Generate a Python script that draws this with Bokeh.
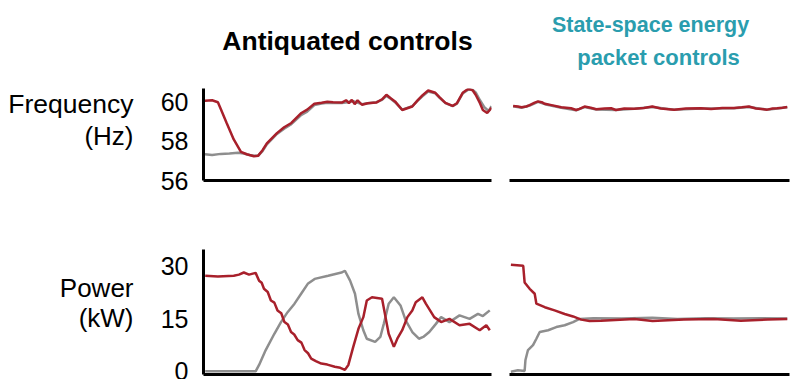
from bokeh.plotting import figure
from bokeh.layouts import column, row
from bokeh.models import Label, FixedTicker
from bokeh.embed import file_html
from bokeh.resources import INLINE

# ---- data -------------------------------------------------------------
# time axis is normalised to 0..100 for every panel
# frequency, antiquated controls (Hz)
t_freq_old_a = [0.5, 3, 5, 6, 8, 10.5, 13, 15, 17.5, 19, 20.5, 22, 25.5, 28, 30.5, 34, 36, 38.5,
                41, 43, 45, 48, 49.5, 50.5, 51.5, 52.5, 53.5, 55, 57, 60, 62, 63.5, 65, 66.5,
                69, 70.5, 72.5, 74.5, 76, 78, 80.5, 82, 84, 86.5, 88, 90, 92, 93.5, 94.5, 96,
                97, 98.5, 100]
freq_old_a = [60.08, 60.1, 60.0, 59.65, 58.95, 58.1, 57.46, 57.34, 57.24, 57.27, 57.55, 57.9,
              58.42, 58.72, 58.94, 59.45, 59.62, 59.92, 59.97, 60.02, 60.0, 59.98, 60.1, 59.95,
              60.12, 59.9, 60.1, 59.87, 59.95, 59.98, 60.15, 60.38, 60.2, 60.04, 59.6, 59.68,
              59.78, 60.12, 60.35, 60.6, 60.48, 60.25, 59.97, 59.81, 59.95, 60.48, 60.69, 60.6,
              60.38, 59.95, 59.6, 59.45, 59.71]
t_freq_old_b = [0.5, 3, 6, 9, 12, 14, 16, 17.5, 19, 20.5, 22, 25.5, 28, 30.5, 34, 36, 38.5, 41,
                43, 45, 48, 50, 52, 55, 57, 60, 62, 63.5, 65, 66.5, 69, 70.5, 72.5, 74.5, 76,
                78, 80.5, 82, 84, 86.5, 88, 90, 92, 93.5, 94.5, 96, 97.5, 99, 100]
freq_old_b = [57.34, 57.3, 57.36, 57.38, 57.42, 57.38, 57.3, 57.26, 57.27, 57.5, 57.85, 58.38,
              58.65, 58.88, 59.35, 59.52, 59.85, 59.93, 59.97, 59.96, 59.96, 60.0, 60.05, 59.9,
              59.95, 60.0, 60.12, 60.32, 60.18, 60.0, 59.62, 59.7, 59.8, 60.1, 60.3, 60.55,
              60.45, 60.22, 59.95, 59.8, 59.92, 60.45, 60.65, 60.62, 60.5, 60.1, 59.75, 59.55,
              59.8]

# frequency, state-space energy packet controls (Hz)
t_freq_new_a = [1.3, 3, 4.3, 6, 7.2, 9, 10.2, 11.5, 12.6, 15, 18.5, 22, 23.8, 25, 26.8, 29, 31,
                34, 36.3, 38, 41, 44.6, 48, 51, 54, 58.8, 63, 68.3, 72, 76, 80.2, 83, 85.5, 88,
                92, 94, 95.6, 97.5, 99.2]
freq_new_a = [59.81, 59.78, 59.74, 59.78, 59.85, 59.98, 60.04, 60.0, 59.92, 59.85, 59.74,
              59.69, 59.6, 59.66, 59.78, 59.72, 59.64, 59.68, 59.69, 59.6, 59.68, 59.67, 59.7,
              59.78, 59.68, 59.62, 59.68, 59.69, 59.65, 59.7, 59.7, 59.74, 59.78, 59.68, 59.62,
              59.68, 59.69, 59.72, 59.76]
t_freq_new_b = [1.3, 4.3, 7.2, 10.2, 12.6, 18.5, 23.8, 26.8, 31, 38, 44.6, 51, 58.8, 68.3,
                80.2, 85.5, 92, 95.6, 99.2]
freq_new_b = [59.79, 59.72, 59.83, 60.02, 59.9, 59.72, 59.59, 59.75, 59.63, 59.6, 59.66, 59.75,
              59.62, 59.68, 59.69, 59.76, 59.62, 59.68, 59.74]

# power, antiquated controls (kW)
t_pow_old_a = [0.6, 5, 10.5, 12.3, 14, 15.8, 18.1, 19.3, 20.2, 21, 22.3, 23.4, 24.6, 25.7, 27,
               28.1, 29.3, 30.4, 31.5, 32.7, 34, 35.1, 36.3, 37.4, 39, 40.9, 43, 45.6, 47.5,
               49.1, 50.3, 52, 53.8, 55.5, 56.7, 58.5, 62, 63.2, 64.3, 66.1, 67.3, 69, 70.8,
               72.5, 73.7, 76, 77.2, 78.6, 80.1, 82.5, 85.4, 88.9, 92.4, 95.9, 98.2, 99.4]
pow_old_a = [27.2, 27.0, 27.2, 27.5, 28.1, 27.5, 28.0, 25.8, 25.2, 23.5, 22.6, 20.2, 19.6, 17.4,
             16.6, 14.1, 13.4, 11.3, 10.6, 9.0, 8.3, 6.2, 5.3, 3.8, 3.1, 2.4, 2.1, 1.5, 1.2, 0.6,
             2.0, 7.1, 12.2, 15.5, 20.2, 21.1, 20.7, 15.5, 10.8, 7.1, 9.4, 11.8, 15.5, 17.4,
             19.7, 21.1, 19.3, 17.5, 15.5, 14.1, 15.0, 13.2, 13.6, 11.8, 13.2, 11.8]
t_pow_old_b = [0.6, 18.1, 19.3, 21.6, 24.6, 26.9, 29.2, 31.6, 33.9, 36.2, 38.6, 43.3, 47.9,
               49.1, 50.9, 52.6, 53.8, 55.5, 56.7, 59.6, 61.4, 62.6, 64.3, 66.1, 68.4, 70.2,
               72.5, 74.8, 76.3, 78.4, 80.7, 82.5, 85.4, 88.9, 92.4, 95.3, 97, 99.4]
pow_old_b = [0.2, 0.2, 2.0, 6.2, 10.8, 14.1, 16.9, 19.3, 22.1, 24.9, 26.3, 27.2, 28.1, 28.6,
             25.8, 22.1, 16.4, 11.8, 9.4, 8.5, 9.9, 13.6, 19.3, 21.1, 18.8, 14.6, 11.3, 9.4,
             9.9, 11.3, 13.6, 15.5, 14.1, 16.0, 15.0, 16.4, 15.8, 17.4]

# power, state-space energy packet controls (kW)
t_pow_new_a = [0.5, 4.9, 5.4, 7.2, 9, 9.6, 12.6, 16.1, 19.7, 22.7, 25.6, 28.6, 32.7, 44.6, 51.1,
               62.3, 73, 82.6, 92.2, 99.2]
pow_new_a = [30.3, 30.0, 25.3, 23.5, 22.1, 19.3, 18.3, 17.4, 16.4, 15.7, 14.8, 14.4, 14.5, 15.0,
             14.4, 14.8, 15.0, 14.5, 14.8, 15.0]
t_pow_new_b = [0.5, 3, 5.4, 5.7, 6.6, 8.4, 9.6, 10.8, 13.8, 16.7, 19.7, 22.7, 25, 30, 40, 51,
               60, 70, 80, 90, 99.2]
pow_new_b = [0.1, 0.5, 0.3, 3.4, 6.2, 7.6, 9.4, 11.3, 11.8, 12.7, 13.2, 14.1, 15.0, 15.2, 15.1,
             15.3, 15.0, 15.2, 15.1, 15.2, 15.1]

freq_ticks = [56, 58, 60]
power_ticks = [0, 15, 30]

RED = "#A8202B"
GREY = "#8E8E8E"
TEAL = "#2A9DAE"
FONT = "Liberation Sans"


def blank(width, height):
    """A bare canvas whose frame fills the whole figure, used to hold text."""
    p = figure(width=width, height=height, x_range=(0, 1), y_range=(0, 1),
               output_backend="svg", toolbar_location=None,
               x_axis_location=None, y_axis_location=None,
               min_border_left=0, min_border_right=0, min_border_top=0, min_border_bottom=0)
    p.outline_line_color = None
    p.grid.visible = False
    return p


def panel(width, height, borders, y_range, ticks=None):
    left, right, top, bottom = borders
    p = figure(width=width, height=height, x_range=(0, 100), y_range=y_range,
               output_backend="svg", toolbar_location=None,
               y_axis_location="left" if ticks else None,
               min_border_left=left, min_border_right=right,
               min_border_top=top, min_border_bottom=bottom)
    p.outline_line_color = None
    p.grid.visible = False
    xa = p.xaxis[0]
    xa.ticker = FixedTicker(ticks=[])
    xa.axis_line_width = 3
    xa.axis_line_color = "black"
    xa.major_tick_line_color = None
    xa.minor_tick_line_color = None
    xa.major_tick_out = 0
    xa.major_label_standoff = 0
    if ticks:
        ya = p.yaxis[0]
        ya.ticker = FixedTicker(ticks=ticks)
        ya.axis_line_width = 3
        ya.axis_line_color = "black"
        ya.major_tick_line_color = None
        ya.minor_tick_line_color = None
        ya.major_tick_out = 0
        ya.major_label_standoff = 15
        ya.major_label_text_font = FONT
        ya.major_label_text_font_size = "25px"
        ya.major_label_text_color = "black"
    return p


def text(p, s, x, y, size, color="black", bold=False, align="right"):
    p.add_layout(Label(x=x, y=y, x_units="screen", y_units="screen", text=s,
                       text_font=FONT, text_font_size=size, text_color=color,
                       text_font_style="bold" if bold else "normal",
                       text_align=align, text_baseline="middle"))


# column headings
heads = blank(790, 75)
text(heads, "Antiquated controls", 347, 35, "26.5px", bold=True, align="center")
text(heads, "State-space energy", 650, 51, "21.5px", color=TEAL, bold=True, align="center")
text(heads, "packet controls", 658, 18, "22px", color=TEAL, bold=True, align="center")

# row labels
side_top = blank(140, 125)
text(side_top, "Frequency", 133, 77, "26.5px")
text(side_top, "(Hz)", 133, 45, "26px")

side_bot = blank(140, 179)
text(side_bot, "Power", 133, 87, "26px")
text(side_bot, "(kW)", 133, 57, "26px")

# top row: frequency
f_old = panel(360, 125, (63, 9, 13, 20), (56, 60.7), freq_ticks)
f_old.line(t_freq_old_b, freq_old_b, line_color=GREY, line_width=2.5)
f_old.line(t_freq_old_a, freq_old_a, line_color=RED, line_width=2.5)

f_new = panel(290, 125, (9, 1, 13, 20), (56, 60.7))
f_new.line(t_freq_new_b, freq_new_b, line_color=GREY, line_width=2.5)
f_new.line(t_freq_new_a, freq_new_a, line_color=RED, line_width=2.5)

# bottom row: power
p_old = panel(360, 179, (63, 9, 49, 5), (-0.7, 34.6), power_ticks)
p_old.line(t_pow_old_b, pow_old_b, line_color=GREY, line_width=2.5)
p_old.line(t_pow_old_a, pow_old_a, line_color=RED, line_width=2.5)

p_new = panel(290, 179, (9, 1, 49, 5), (-0.7, 34.6))
p_new.line(t_pow_new_b, pow_new_b, line_color=GREY, line_width=2.5)
p_new.line(t_pow_new_a, pow_new_a, line_color=RED, line_width=2.5)

layout = column(heads, row(side_top, f_old, f_new), row(side_bot, p_old, p_new))
open("out.html", "w").write(file_html(layout, INLINE))
